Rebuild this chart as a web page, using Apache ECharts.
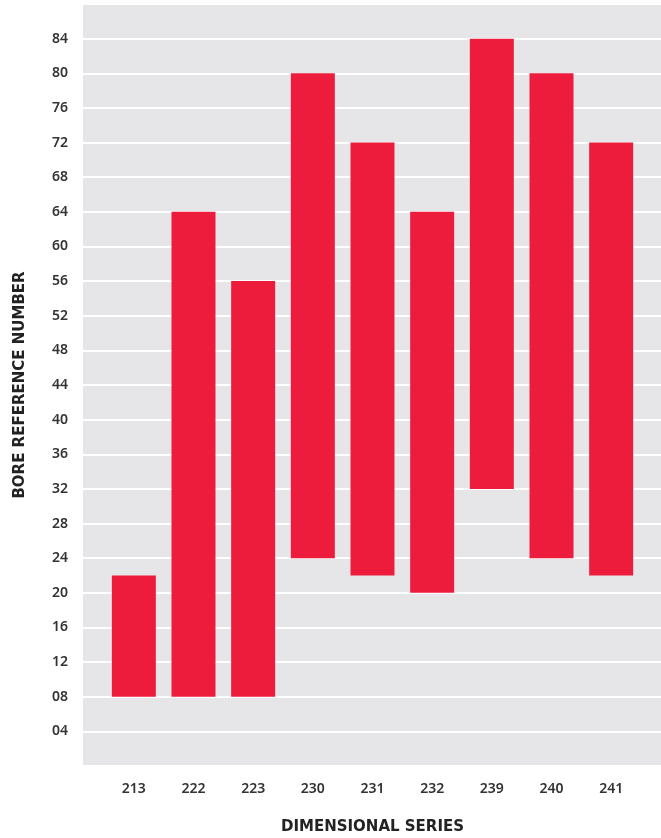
<!DOCTYPE html>
<html>
<head>
<meta charset="utf-8">
<script src="https://cdn.jsdelivr.net/npm/echarts@6/dist/echarts.min.js"></script>
<style>html,body{margin:0;padding:0;background:#fff;}#c{width:661px;height:838px;}</style>
</head>
<body>
<div id="c"></div>
<script>
const categories = ['213','222','223','230','231','232','239','240','241'];
const lowValues  = [8, 8, 8, 24, 22, 20, 32, 24, 22];
const highValues = [22, 64, 56, 80, 72, 64, 84, 80, 72];
const yTicks = [4,8,12,16,20,24,28,32,36,40,44,48,52,56,60,64,68,72,76,80,84];

const chart = echarts.init(document.getElementById('c'));
const font = 'Noto Sans';
const nameFont = 'DejaVu Sans';
chart.setOption({
  animation: false,
  grid: [
    {left: 83, right: 0, top: 4, bottom: 72, show: true, backgroundColor: '#e6e6e8', borderWidth: 0, containLabel: false, outerBoundsMode: 'none'},
    {left: 104, right: 20, top: 4, bottom: 72, containLabel: false, outerBoundsMode: 'none'}
  ],
  xAxis: [
    {gridIndex: 0, type: 'category', data: categories, show: false},
    {gridIndex: 1, type: 'category', data: categories,
     axisLine: {show: false}, axisTick: {show: false},
     axisLabel: {margin: 16, color: '#333', fontFamily: font, fontSize: 14, fontWeight: 600},
     name: 'DIMENSIONAL SERIES', nameLocation: 'middle', nameGap: 54,
     nameTextStyle: {fontFamily: nameFont, fontSize: 15, fontWeight: 'bold', color: '#222'}}
  ],
  yAxis: [
    {gridIndex: 0, type: 'value', min: 0, max: 88, interval: 4,
     axisLine: {show: false}, axisTick: {show: false},
     splitLine: {show: true, lineStyle: {color: '#ffffff', width: 2}},
     axisLabel: {margin: 15, color: '#333', fontFamily: font, fontSize: 14, fontWeight: 600,
       formatter: v => yTicks.includes(v) ? String(v).padStart(2, '0') : ''},
     name: 'BORE REFERENCE NUMBER', nameLocation: 'middle', nameGap: 55, nameRotate: 90,
     nameTextStyle: {fontFamily: nameFont, fontSize: 15, fontWeight: 'bold', color: '#222'}},
    {gridIndex: 1, type: 'value', min: 0, max: 88, interval: 4, show: false, splitLine: {show: false}}
  ],
  series: [
    {type: 'bar', xAxisIndex: 1, yAxisIndex: 1, stack: 'r', barWidth: 44,
     itemStyle: {color: 'transparent'}, data: lowValues, silent: true},
    {type: 'bar', xAxisIndex: 1, yAxisIndex: 1, stack: 'r', barWidth: 44,
     itemStyle: {color: '#ed1c3c'}, data: highValues.map((h, i) => h - lowValues[i])}
  ]
});
</script>
</body>
</html>
